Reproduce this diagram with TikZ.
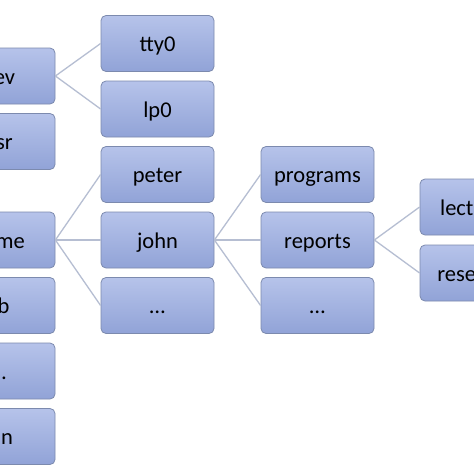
\documentclass[tikz,border=0pt]{standalone}
\usepackage{fontspec}
\setmainfont{Carlito}
\definecolor{boxtop}{RGB}{182,195,234}
\definecolor{boxbot}{RGB}{145,163,215}
\definecolor{boxline}{RGB}{124,138,174}
\definecolor{connc}{RGB}{182,190,210}
\tikzset{
  dirbox/.style={draw=boxline, line width=0.8pt, rounded corners=5pt,
    top color=boxtop, bottom color=boxbot,
    minimum width=113pt, minimum height=56pt, inner sep=0pt,
    text height=16pt, text depth=0pt,
    font=\fontsize{22.5}{27}\selectfont, text=black},
  conn/.style={draw=connc, line width=1.3pt}
}
\begin{document}
\begin{tikzpicture}[x=1pt,y=-1pt]
\useasboundingbox (0,0) rectangle (474,474);
\clip (0,0) rectangle (474,474);
\fill[white] (0,0) rectangle (474,474);
% column 1
\node[dirbox] (dev)  at (-1.5,76)    {dev};
\node[dirbox] (usr)  at (-1.5,141.5) {usr};
\node[dirbox] (home) at (-1.5,240)   {home};
\node[dirbox] (lib)  at (-1.5,305.5) {lib};
\node[dirbox] (dots1) at (-1.5,371)  {…};
\node[dirbox] (bin)  at (-1.5,436.5) {bin};
% column 2
\node[dirbox] (tty0)  at (157.5,43.5)  {tty0};
\node[dirbox] (lp0)   at (157.5,109)   {lp0};
\node[dirbox] (peter) at (157.5,174.5) {peter};
\node[dirbox] (john)  at (157.5,240)   {john};
\node[dirbox] (dots2) at (157.5,305.5) {…};
% column 3
\node[dirbox] (programs) at (317.5,174.5) {programs};
\node[dirbox] (reports)  at (317.5,240)   {reports};
\node[dirbox] (dots3)    at (317.5,305.5) {…};
% column 4
\node[dirbox] (lectures) at (476.5,207) {lectures};
\node[dirbox] (research) at (476.5,273) {research};
% connectors
\draw[conn] (dev.east) -- (tty0.west);
\draw[conn] (dev.east) -- (lp0.west);
\draw[conn] (home.east) -- (peter.west);
\draw[conn] (home.east) -- (john.west);
\draw[conn] (home.east) -- (dots2.west);
\draw[conn] (john.east) -- (programs.west);
\draw[conn] (john.east) -- (reports.west);
\draw[conn] (john.east) -- (dots3.west);
\draw[conn] (reports.east) -- (lectures.west);
\draw[conn] (reports.east) -- (research.west);
\end{tikzpicture}
\end{document}
